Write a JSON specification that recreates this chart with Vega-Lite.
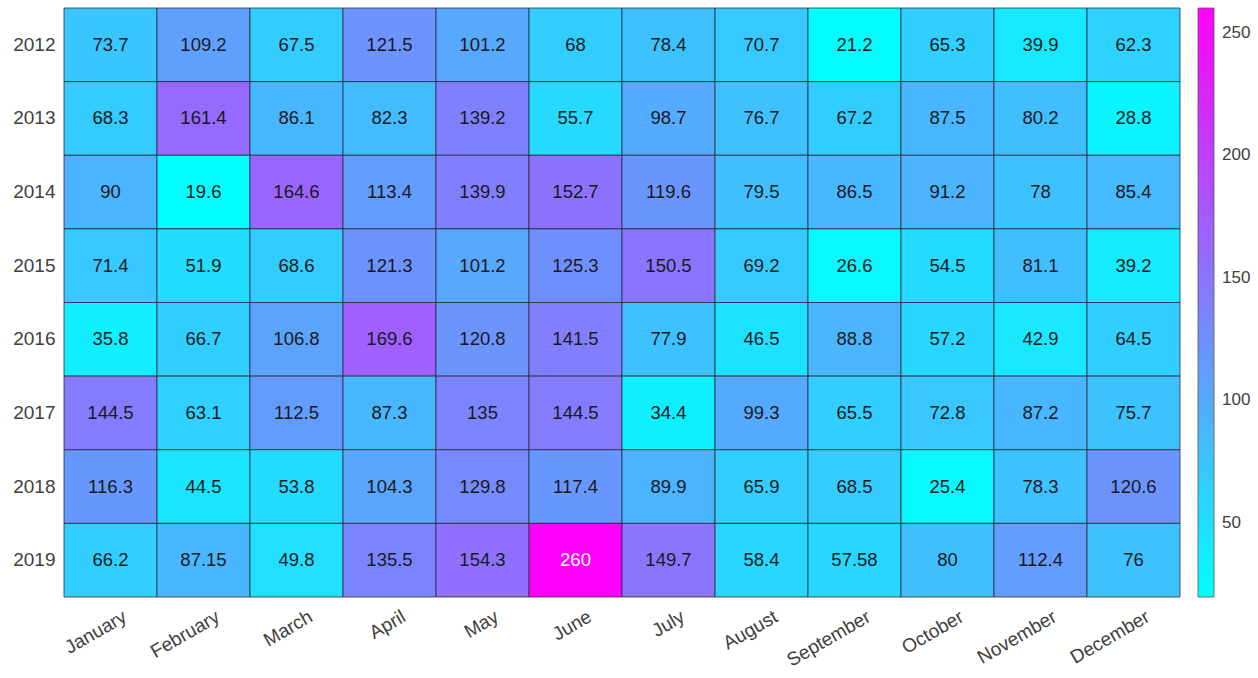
{
  "$schema": "https://vega.github.io/schema/vega-lite/v6.json",
  "width": 1116,
  "height": 589,
  "autosize": {"type": "none"},
  "padding": {"left": 64, "top": 8, "right": 78, "bottom": 81},
  "background": "white",
  "config": {
    "view": {"stroke": null},
    "font": "Liberation Sans",
    "axis": {"domain": false, "ticks": false, "grid": false, "labelFont": "Liberation Sans", "labelColor": "#404040", "labelFontSize": 19}
  },
  "data": {"values": [
    {"year": "2012", "month": "January", "value": 73.7},
    {"year": "2012", "month": "February", "value": 109.2},
    {"year": "2012", "month": "March", "value": 67.5},
    {"year": "2012", "month": "April", "value": 121.5},
    {"year": "2012", "month": "May", "value": 101.2},
    {"year": "2012", "month": "June", "value": 68},
    {"year": "2012", "month": "July", "value": 78.4},
    {"year": "2012", "month": "August", "value": 70.7},
    {"year": "2012", "month": "September", "value": 21.2},
    {"year": "2012", "month": "October", "value": 65.3},
    {"year": "2012", "month": "November", "value": 39.9},
    {"year": "2012", "month": "December", "value": 62.3},
    {"year": "2013", "month": "January", "value": 68.3},
    {"year": "2013", "month": "February", "value": 161.4},
    {"year": "2013", "month": "March", "value": 86.1},
    {"year": "2013", "month": "April", "value": 82.3},
    {"year": "2013", "month": "May", "value": 139.2},
    {"year": "2013", "month": "June", "value": 55.7},
    {"year": "2013", "month": "July", "value": 98.7},
    {"year": "2013", "month": "August", "value": 76.7},
    {"year": "2013", "month": "September", "value": 67.2},
    {"year": "2013", "month": "October", "value": 87.5},
    {"year": "2013", "month": "November", "value": 80.2},
    {"year": "2013", "month": "December", "value": 28.8},
    {"year": "2014", "month": "January", "value": 90},
    {"year": "2014", "month": "February", "value": 19.6},
    {"year": "2014", "month": "March", "value": 164.6},
    {"year": "2014", "month": "April", "value": 113.4},
    {"year": "2014", "month": "May", "value": 139.9},
    {"year": "2014", "month": "June", "value": 152.7},
    {"year": "2014", "month": "July", "value": 119.6},
    {"year": "2014", "month": "August", "value": 79.5},
    {"year": "2014", "month": "September", "value": 86.5},
    {"year": "2014", "month": "October", "value": 91.2},
    {"year": "2014", "month": "November", "value": 78},
    {"year": "2014", "month": "December", "value": 85.4},
    {"year": "2015", "month": "January", "value": 71.4},
    {"year": "2015", "month": "February", "value": 51.9},
    {"year": "2015", "month": "March", "value": 68.6},
    {"year": "2015", "month": "April", "value": 121.3},
    {"year": "2015", "month": "May", "value": 101.2},
    {"year": "2015", "month": "June", "value": 125.3},
    {"year": "2015", "month": "July", "value": 150.5},
    {"year": "2015", "month": "August", "value": 69.2},
    {"year": "2015", "month": "September", "value": 26.6},
    {"year": "2015", "month": "October", "value": 54.5},
    {"year": "2015", "month": "November", "value": 81.1},
    {"year": "2015", "month": "December", "value": 39.2},
    {"year": "2016", "month": "January", "value": 35.8},
    {"year": "2016", "month": "February", "value": 66.7},
    {"year": "2016", "month": "March", "value": 106.8},
    {"year": "2016", "month": "April", "value": 169.6},
    {"year": "2016", "month": "May", "value": 120.8},
    {"year": "2016", "month": "June", "value": 141.5},
    {"year": "2016", "month": "July", "value": 77.9},
    {"year": "2016", "month": "August", "value": 46.5},
    {"year": "2016", "month": "September", "value": 88.8},
    {"year": "2016", "month": "October", "value": 57.2},
    {"year": "2016", "month": "November", "value": 42.9},
    {"year": "2016", "month": "December", "value": 64.5},
    {"year": "2017", "month": "January", "value": 144.5},
    {"year": "2017", "month": "February", "value": 63.1},
    {"year": "2017", "month": "March", "value": 112.5},
    {"year": "2017", "month": "April", "value": 87.3},
    {"year": "2017", "month": "May", "value": 135},
    {"year": "2017", "month": "June", "value": 144.5},
    {"year": "2017", "month": "July", "value": 34.4},
    {"year": "2017", "month": "August", "value": 99.3},
    {"year": "2017", "month": "September", "value": 65.5},
    {"year": "2017", "month": "October", "value": 72.8},
    {"year": "2017", "month": "November", "value": 87.2},
    {"year": "2017", "month": "December", "value": 75.7},
    {"year": "2018", "month": "January", "value": 116.3},
    {"year": "2018", "month": "February", "value": 44.5},
    {"year": "2018", "month": "March", "value": 53.8},
    {"year": "2018", "month": "April", "value": 104.3},
    {"year": "2018", "month": "May", "value": 129.8},
    {"year": "2018", "month": "June", "value": 117.4},
    {"year": "2018", "month": "July", "value": 89.9},
    {"year": "2018", "month": "August", "value": 65.9},
    {"year": "2018", "month": "September", "value": 68.5},
    {"year": "2018", "month": "October", "value": 25.4},
    {"year": "2018", "month": "November", "value": 78.3},
    {"year": "2018", "month": "December", "value": 120.6},
    {"year": "2019", "month": "January", "value": 66.2},
    {"year": "2019", "month": "February", "value": 87.15},
    {"year": "2019", "month": "March", "value": 49.8},
    {"year": "2019", "month": "April", "value": 135.5},
    {"year": "2019", "month": "May", "value": 154.3},
    {"year": "2019", "month": "June", "value": 260},
    {"year": "2019", "month": "July", "value": 149.7},
    {"year": "2019", "month": "August", "value": 58.4},
    {"year": "2019", "month": "September", "value": 57.58},
    {"year": "2019", "month": "October", "value": 80},
    {"year": "2019", "month": "November", "value": 112.4},
    {"year": "2019", "month": "December", "value": 76}
  ]},
  "encoding": {
    "x": {
      "field": "month", "type": "nominal",
      "sort": ["January","February","March","April","May","June","July","August","September","October","November","December"],
      "scale": {"paddingInner": 0, "paddingOuter": 0},
      "axis": {"title": null, "labelAngle": -30, "labelAlign": "right", "labelBaseline": "top", "labelPadding": 10, "labelFontSize": 19, "labelOffset": 10}
    },
    "y": {
      "field": "year", "type": "ordinal",
      "scale": {"paddingInner": 0, "paddingOuter": 0},
      "axis": {"title": null, "labelPadding": 9, "labelFontSize": 19}
    }
  },
  "layer": [
    {
      "mark": {"type": "rect", "stroke": "#2b2b3a", "strokeWidth": 0.8},
      "encoding": {
        "color": {
          "field": "value", "type": "quantitative",
          "scale": {"domain": [19.6, 260], "range": ["#00ffff", "#ff00ff"], "interpolate": "rgb"},
          "legend": {
            "title": null, "orient": "none", "legendX": 1134, "legendY": 0,
            "direction": "vertical", "gradientLength": 589, "gradientThickness": 16,
            "gradientStrokeColor": "#555", "gradientStrokeWidth": 0.8,
            "values": [50, 100, 150, 200, 250],
            "labelFontSize": 17, "labelColor": "#404040", "labelFont": "Liberation Sans", "labelOffset": 8
          }
        }
      }
    },
    {
      "mark": {"type": "text", "fontSize": 18.5, "font": "Liberation Sans"},
      "encoding": {
        "text": {"field": "value", "type": "quantitative", "format": "~g"},
        "color": {
          "condition": {"test": "datum.value >= 250", "value": "white"},
          "value": "#1a1a1a"
        }
      }
    }
  ]
}
